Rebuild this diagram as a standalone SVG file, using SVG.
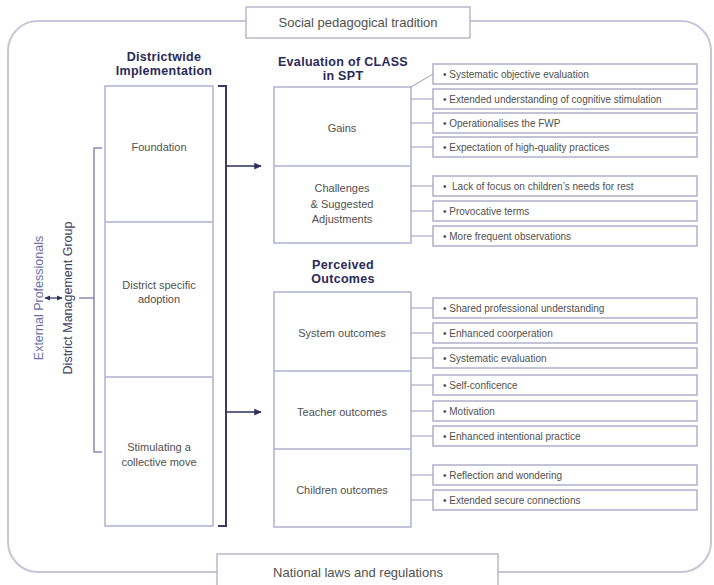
<svg xmlns="http://www.w3.org/2000/svg" width="714" height="585" viewBox="0 0 714 585">
<defs>
<marker id="ah" viewBox="0 0 10 10" refX="9" refY="5" markerWidth="5" markerHeight="5" orient="auto-start-reverse"><path d="M0,0.5 L10,5 L0,9.5 z" fill="#2e2e5e"/></marker>
</defs>
<style>
.frame{fill:none;stroke:#c6c6d6;stroke-width:2}
.box{fill:#fff;stroke:#aeb0d2;stroke-width:1.5}
.item{fill:#fff;stroke:#b0b0cc;stroke-width:1.5}
.ln{fill:none;stroke:#9c9cba;stroke-width:1}
.br{fill:none;stroke:#3a3a68;stroke-width:2}
.br2{fill:none;stroke:#8a8ab0;stroke-width:1.5}
.ar{fill:none;stroke:#2e2e5e;stroke-width:1.5}
.t{font-family:"Liberation Sans",Arial,sans-serif;fill:#505050}
.h{font-family:"Liberation Sans",Arial,sans-serif;font-weight:bold;fill:#2a2a58;font-size:12.5px;text-anchor:middle;letter-spacing:0.3px}
.bt{font-size:11px;text-anchor:middle}
.it{font-size:10px}
.ft{font-size:13px;text-anchor:middle}
.rt{font-size:12.5px;text-anchor:middle}
</style>
<rect width="714" height="585" fill="#fff"/>
<rect class="frame" x="8" y="21" width="703" height="551" rx="30"/>

<g id="social-tradition">
<rect class="box" x="246" y="7" width="224" height="31" style="stroke:#b8b8cc"/>
<text class="t ft" x="358" y="27">Social pedagogical tradition</text>
</g>
<g id="national-laws">
<rect class="box" x="217" y="554" width="281" height="40" style="stroke:#b8b8cc"/>
<text class="t ft" x="358" y="577">National laws and regulations</text>
</g>

<g id="external-professionals">
<text class="t rt" transform="translate(43,298) rotate(-90)" style="fill:#6e70a8">External Professionals</text>
</g>
<g id="district-management-group">
<text class="t rt" transform="translate(72,298) rotate(-90)" style="fill:#3e3e5e">District Management Group</text>
</g>

<g id="districtwide-implementation">
<text class="h" x="164" y="61">Districtwide</text>
<text class="h" x="164" y="75">Implementation</text>
<rect class="box" x="105" y="86" width="108" height="440"/>
<line x1="105" y1="222" x2="213" y2="222" style="stroke:#aeb0d2;stroke-width:1.5"/>
<line x1="105" y1="377" x2="213" y2="377" style="stroke:#aeb0d2;stroke-width:1.5"/>
<text class="t bt" x="159" y="151">Foundation</text>
<text class="t bt" x="159" y="289">District specific</text>
<text class="t bt" x="159" y="303">adoption</text>
<text class="t bt" x="159" y="451">Stimulating a</text>
<text class="t bt" x="159" y="466">collective move</text>
</g>

<g id="evaluation-class">
<text class="h" x="343" y="66">Evaluation of CLASS</text>
<text class="h" x="343" y="80">in SPT</text>
<rect class="box" x="274" y="87" width="137" height="156"/>
<line x1="274" y1="166" x2="411" y2="166" style="stroke:#aeb0d2;stroke-width:1.5"/>
<text class="t bt" x="342" y="132">Gains</text>
<text class="t bt" x="342" y="192">Challenges</text>
<text class="t bt" x="342" y="208">&amp; Suggested</text>
<text class="t bt" x="342" y="223">Adjustments</text>
</g>

<g id="perceived-outcomes">
<text class="h" x="343" y="269">Perceived</text>
<text class="h" x="343" y="283">Outcomes</text>
<rect class="box" x="274" y="292" width="137" height="235"/>
<line x1="274" y1="371" x2="411" y2="371" style="stroke:#aeb0d2;stroke-width:1.5"/>
<line x1="274" y1="449" x2="411" y2="449" style="stroke:#aeb0d2;stroke-width:1.5"/>
<text class="t bt" x="342" y="337">System outcomes</text>
<text class="t bt" x="342" y="416">Teacher outcomes</text>
<text class="t bt" x="342" y="494">Children outcomes</text>
</g>

<g id="item-e1"><rect class="item" x="433" y="64" width="264" height="20"/><text class="t it" x="443" y="77.5">• Systematic objective evaluation</text></g>
<g id="item-e2"><rect class="item" x="433" y="89" width="264" height="20"/><text class="t it" x="443" y="102.5">• Extended understanding of cognitive stimulation</text></g>
<g id="item-e3"><rect class="item" x="433" y="113" width="264" height="20"/><text class="t it" x="443" y="126.5">• Operationalises the FWP</text></g>
<g id="item-e4"><rect class="item" x="433" y="137" width="264" height="20"/><text class="t it" x="443" y="150.5">• Expectation of high-quality practices</text></g>
<g id="item-e5"><rect class="item" x="433" y="176" width="264" height="20"/><text class="t it" x="443" y="189.5">•&#160; Lack of focus on children’s needs for rest</text></g>
<g id="item-e6"><rect class="item" x="433" y="201" width="264" height="20"/><text class="t it" x="443" y="214.5">• Provocative terms</text></g>
<g id="item-e7"><rect class="item" x="433" y="226" width="264" height="20"/><text class="t it" x="443" y="239.5">• More frequent observations</text></g>

<g id="item-o1"><rect class="item" x="433" y="298" width="264" height="20"/><text class="t it" x="443" y="311.5">• Shared professional understanding</text></g>
<g id="item-o2"><rect class="item" x="433" y="323" width="264" height="20"/><text class="t it" x="443" y="336.5">• Enhanced coorperation</text></g>
<g id="item-o3"><rect class="item" x="433" y="348" width="264" height="20"/><text class="t it" x="443" y="361.5">• Systematic evaluation</text></g>
<g id="item-o4"><rect class="item" x="433" y="375" width="264" height="20"/><text class="t it" x="443" y="388.5">• Self-conficence</text></g>
<g id="item-o5"><rect class="item" x="433" y="401" width="264" height="20"/><text class="t it" x="443" y="414.5">• Motivation</text></g>
<g id="item-o6"><rect class="item" x="433" y="426" width="264" height="20"/><text class="t it" x="443" y="439.5">• Enhanced intentional practice</text></g>
<g id="item-o7"><rect class="item" x="433" y="465" width="264" height="20"/><text class="t it" x="443" y="478.5">• Reflection and wondering</text></g>
<g id="item-o8"><rect class="item" x="433" y="490" width="264" height="20"/><text class="t it" x="443" y="503.5">• Extended secure connections</text></g>

<g id="connectors">
<path class="br2" d="M102,148 H94 V452 H102"/>
<line class="ln" x1="79" y1="298" x2="94" y2="298" style="stroke:#6e6e98;stroke-width:1.2"/>
<line class="ar" x1="45" y1="298" x2="62" y2="298" marker-start="url(#ah)" marker-end="url(#ah)" style="stroke-width:1.2"/>
<path class="br" d="M218,86 H226 V526 H218"/>
<line class="ar" x1="226" y1="166" x2="261" y2="166" marker-end="url(#ah)"/>
<line class="ar" x1="226" y1="412" x2="261" y2="412" marker-end="url(#ah)"/>
<path class="ln" d="M411,87 L433,74"/>
<line class="ln" x1="411" y1="99" x2="433" y2="99"/>
<line class="ln" x1="411" y1="123" x2="433" y2="123"/>
<line class="ln" x1="411" y1="147" x2="433" y2="147"/>
<line class="ln" x1="411" y1="186" x2="433" y2="186"/>
<line class="ln" x1="411" y1="211" x2="433" y2="211"/>
<line class="ln" x1="411" y1="236" x2="433" y2="236"/>
<line class="ln" x1="411" y1="308" x2="433" y2="308"/>
<line class="ln" x1="411" y1="333" x2="433" y2="333"/>
<line class="ln" x1="411" y1="358" x2="433" y2="358"/>
<line class="ln" x1="411" y1="385" x2="433" y2="385"/>
<line class="ln" x1="411" y1="411" x2="433" y2="411"/>
<line class="ln" x1="411" y1="436" x2="433" y2="436"/>
<line class="ln" x1="411" y1="475" x2="433" y2="475"/>
<line class="ln" x1="411" y1="500" x2="433" y2="500"/>
</g>
</svg>
